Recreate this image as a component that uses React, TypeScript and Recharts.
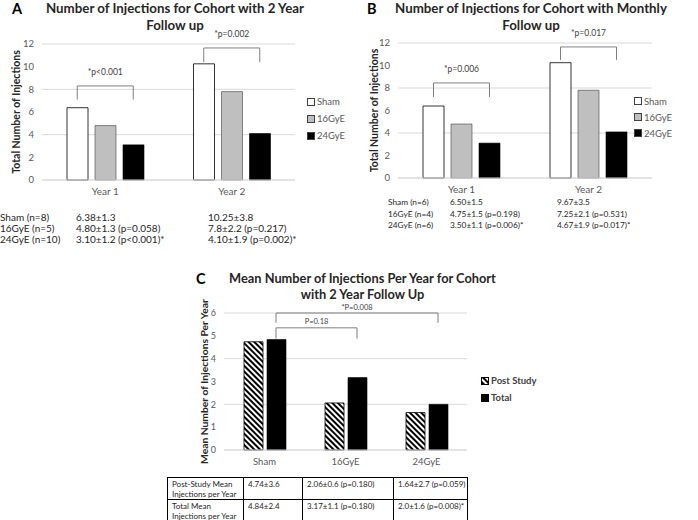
import React from "react"
import {
  BarChart,
  Bar,
  XAxis,
  YAxis,
  CartesianGrid,
  ReferenceLine,
} from "recharts"

// ---- data ----
const years = ["Year 1", "Year 2"]
const groups = ["Sham", "16GyE", "24GyE"]
const groupFill = ["#ffffff", "#bfbfbf", "#000000"]

// cohort with 2 year follow up
const aSham = [6.38, 10.25]
const a16 = [4.8, 7.8]
const a24 = [3.1, 4.1]

// cohort with monthly follow up
const bSham = [6.4, 10.25]
const b16 = [4.8, 7.8]
const b24 = [3.1, 4.1]

const countTicks = [0, 2, 4, 6, 8, 10, 12]

// brackets: [category, bottom, top, label]
const aBrackets: [string, number, number, string][] = [
  ["Year 1", 7.1, 8.3, "*p<0.001"],
  ["Year 2", 10.4, 11.65, "*p=0.002"],
]
const bBrackets: [string, number, number, string][] = [
  ["Year 1", 7.2, 8.45, "*p=0.006"],
  ["Year 2", 10.5, 11.65, "*p=0.017"],
]

const aStatRows = ["Sham (n=8)", "16GyE (n=5)", "24GyE (n=10)"]
const aStatY1 = ["6.38±1.3", "4.80±1.3 (p=0.058)", "3.10±1.2 (p<0.001)*"]
const aStatY2 = ["10.25±3.8", "7.8±2.2 (p=0.217)", "4.10±1.9 (p=0.002)*"]

const bStatRows = ["Sham (n=6)", "16GyE (n=4)", "24GyE (n=6)"]
const bStatY1 = ["6.50±1.5", "4.75±1.5 (p=0.198)", "3.50±1.1 (p=0.006)*"]
const bStatY2 = ["9.67±3.5", "7.25±2.1 (p=0.531)", "4.67±1.9 (p=0.017)*"]

// mean per year
const dose = ["Sham", "16GyE", "24GyE"]
const postStudy = [4.74, 2.06, 1.64]
const totalMean = [4.84, 3.17, 2.0]
const meanTicks = [0, 1, 2, 3, 4, 5, 6]
// [from, to, bottom, top, label]
const cBrackets: [string, string, number, number, string][] = [
  ["Sham", "24GyE", 5.57, 6.0, "*P=0.008"],
  ["Sham", "16GyE", 4.88, 5.35, "P=0.18"],
]
const cRowLabels = [
  ["Post-Study Mean", "Injections per Year"],
  ["Total Mean", "Injections per Year"],
]
const cRowVals = [
  ["4.74±3.6", "2.06±0.6 (p=0.180)", "1.64±2.7 (p=0.059)"],
  ["4.84±2.4", "3.17±1.1 (p=0.180)", "2.0±1.6 (p=0.008)*"],
]

const FONT = "Lato, 'Open Sans', sans-serif"
const GRID = "#d9d9d9"
const TICK = "#595959"

const yearData = (s: number[], m: number[], h: number[]) =>
  years.map((y, i) => ({ year: y, sham: s[i], gy16: m[i], gy24: h[i] }))

const aData = yearData(aSham, a16, a24)
const bData = yearData(bSham, b16, b24)
const cData = dose.map((d, i) => ({ dose: d, post: postStudy[i], total: totalMean[i] }))

// bracket drawn between two bar centres, x offsets are bar positions in the band
function bracketShape(o1: number, o2: number, text: string, gap: number, fs: number) {
  return (p: any) => {
    const xa = p.x1 + o1
    const xb = p.x2 + o2
    const yb = p.y1
    const yt = p.y2
    return (
      <g>
        <path
          d={`M${xa},${yb}L${xa},${yt}L${xb},${yt}L${xb},${yb}`}
          fill="none"
          stroke="#7f7f7f"
          strokeWidth={1}
        />
        <text
          x={(xa + xb) / 2}
          y={yt - gap}
          textAnchor="middle"
          fontSize={fs}
          fill="#404040"
          fontFamily={FONT}
        >
          {text}
        </text>
      </g>
    )
  }
}

const yLabel = (text: string, dx: number, fs: number) => (p: any) => {
  const vb = p.viewBox
  const cx = vb.x + dx
  const cy = vb.y + vb.height / 2
  return (
    <text
      x={cx}
      y={cy}
      transform={`rotate(-90 ${cx} ${cy})`}
      textAnchor="middle"
      dominantBaseline="central"
      fontSize={fs}
      fontWeight={700}
      fill="#262626"
      fontFamily={FONT}
    >
      {text}
    </text>
  )
}

function YearChart({
  data,
  brackets,
  width,
  height,
  margin,
  yWidth,
  labelDx,
  barSize,
  barGap,
}: any) {
  const step = barSize + barGap
  return (
    <BarChart
      width={width}
      height={height}
      data={data}
      margin={margin}
      barSize={barSize}
      barGap={barGap}
      style={{ fontFamily: FONT }}
    >
      <CartesianGrid vertical={false} stroke={GRID} />
      <XAxis
        dataKey="year"
        height={20}
        tickLine={false}
        axisLine={{ stroke: GRID }}
        tick={{ fontSize: 10, fill: TICK }}
      />
      <YAxis
        width={yWidth}
        domain={[0, 12]}
        ticks={countTicks}
        tickLine={false}
        axisLine={false}
        tick={{ fontSize: 9.5, fill: TICK }}
        label={yLabel("Total Number of Injections", labelDx, 10.5)}
      />
      <Bar dataKey="sham" fill={groupFill[0]} stroke="#000" strokeWidth={0.8} isAnimationActive={false} />
      <Bar dataKey="gy16" fill={groupFill[1]} stroke="#404040" strokeWidth={0.6} isAnimationActive={false} />
      <Bar dataKey="gy24" fill={groupFill[2]} stroke="#000" strokeWidth={0.6} isAnimationActive={false} />
      {brackets.map((b: any, i: number) => (
        <ReferenceLine
          key={i}
          segment={[
            { x: b[0], y: b[1] },
            { x: b[0], y: b[2] },
          ]}
          ifOverflow="visible"
          shape={bracketShape(-step, step, b[3], 11, 8.5)}
        />
      ))}
    </BarChart>
  )
}

function Legend3({ left, top, gap }: { left: number; top: number; gap: number }) {
  return (
    <div style={{ position: "absolute", left, top, fontFamily: FONT, fontSize: 9.5, color: TICK }}>
      {groups.map((g, i) => (
        <div key={g} style={{ display: "flex", alignItems: "center", height: gap }}>
          <span
            style={{
              display: "inline-block",
              width: 6,
              height: 6,
              background: groupFill[i],
              border: "1px solid #404040",
              marginRight: 2,
            }}
          />
          {g}
        </div>
      ))}
    </div>
  )
}

function StatText({ rows, c1, c2, left, x1, x2, top, lh, fs }: any) {
  return (
    <div style={{ position: "absolute", left: 0, top, fontFamily: FONT, fontSize: fs, color: "#262626" }}>
      {rows.map((r: string, i: number) => (
        <div key={r} style={{ position: "relative", height: lh, whiteSpace: "nowrap" }}>
          <span style={{ position: "absolute", left }}>{r}</span>
          <span style={{ position: "absolute", left: x1 }}>{c1[i]}</span>
          <span style={{ position: "absolute", left: x2 }}>{c2[i]}</span>
        </div>
      ))}
    </div>
  )
}

const titleStyle: React.CSSProperties = {
  position: "absolute",
  fontFamily: FONT,
  fontWeight: 700,
  fontSize: 13.3,
  color: "#262626",
  textAlign: "center",
  lineHeight: "17px",
  whiteSpace: "nowrap",
}
const letterStyle: React.CSSProperties = {
  position: "absolute",
  fontFamily: FONT,
  fontWeight: 700,
  fontSize: 14.5,
  lineHeight: "15px",
  color: "#000",
}

export default function App() {
  const cStep = 19 + 4
  const cell: React.CSSProperties = {
    border: "1px solid #000",
    padding: "1px 4px 0 4px",
    verticalAlign: "top",
    lineHeight: "10px",
  }
  return (
    <div
      style={{
        position: "absolute",
        left: 0,
        top: 0,
        width: 698,
        height: 520,
        background: "#fff",
        overflow: "hidden",
      }}
    >
      {/* Panel A */}
      <div style={{ ...letterStyle, left: 12, top: 1 }}>A</div>
      <div style={{ ...titleStyle, left: 20, width: 310, top: 0 }}>
        Number of Injections for Cohort with 2 Year
        <br />
        Follow up
      </div>
      <div style={{ position: "absolute", left: 0, top: 0 }}>
        <YearChart
          data={aData}
          brackets={aBrackets}
          width={350}
          height={200}
          margin={{ top: 44, right: 55, bottom: 0, left: 0 }}
          yWidth={42}
          labelDx={16}
          barSize={21}
          barGap={7}
        />
      </div>
      <Legend3 left={307} top={93} gap={17} />
      <StatText
        rows={aStatRows}
        c1={aStatY1}
        c2={aStatY2}
        left={0}
        x1={76}
        x2={208}
        top={211}
        lh={11}
        fs={10}
      />

      {/* Panel B */}
      <div style={{ ...letterStyle, left: 367, top: 1 }}>B</div>
      <div style={{ ...titleStyle, left: 376, width: 310, top: 0 }}>
        Number of Injections for Cohort with Monthly
        <br />
        Follow up
      </div>
      <div style={{ position: "absolute", left: 350, top: 0 }}>
        <YearChart
          data={bData}
          brackets={bBrackets}
          width={348}
          height={198}
          margin={{ top: 43, right: 46, bottom: 0, left: 0 }}
          yWidth={48}
          labelDx={24}
          barSize={21}
          barGap={7}
        />
      </div>
      <Legend3 left={634} top={93} gap={16} />
      <StatText
        rows={bStatRows}
        c1={bStatY1}
        c2={bStatY2}
        left={388}
        x1={450}
        x2={557}
        top={197}
        lh={11.5}
        fs={8.3}
      />

      {/* Panel C */}
      <div style={{ ...letterStyle, left: 196, top: 271 }}>C</div>
      <div style={{ ...titleStyle, fontSize: 12.8, lineHeight: "16px", left: 210, width: 305, top: 270 }}>
        Mean Number of Injections Per Year for Cohort
        <br />
        with 2 Year Follow Up
      </div>
      <div style={{ position: "absolute", left: 150, top: 290 }}>
        <svg width={0} height={0} style={{ position: "absolute" }}>
          <defs>
            <pattern
              id="hatch"
              width={4}
              height={4}
              patternUnits="userSpaceOnUse"
              patternTransform="rotate(-45)"
            >
              <rect width={4} height={4} fill="#fff" />
              <rect width={2} height={4} fill="#000" />
            </pattern>
          </defs>
        </svg>
        <BarChart
          width={340}
          height={180}
          data={cData}
          margin={{ top: 23, right: 23, bottom: 0, left: 0 }}
          barSize={19}
          barGap={4}
          style={{ fontFamily: FONT }}
        >
          <CartesianGrid vertical={false} stroke={GRID} />
          <XAxis
            dataKey="dose"
            height={20}
            tickLine={false}
            axisLine={{ stroke: GRID }}
            tick={{ fontSize: 9.5, fill: TICK }}
          />
          <YAxis
            width={74}
            domain={[0, 6]}
            ticks={meanTicks}
            tickLine={false}
            axisLine={false}
            tick={{ fontSize: 9, fill: TICK }}
            label={yLabel("Mean Number of Injections Per Year", 54, 10.3)}
          />
          <Bar dataKey="post" fill="url(#hatch)" stroke="#000" strokeWidth={0.8} isAnimationActive={false} />
          <Bar dataKey="total" fill="#000" stroke="#000" strokeWidth={0.6} isAnimationActive={false} />
          {cBrackets.map((b, i) => (
            <ReferenceLine
              key={i}
              segment={[
                { x: b[0], y: b[2] },
                { x: b[1], y: b[3] },
              ]}
              ifOverflow="visible"
              shape={bracketShape(cStep / 2, cStep / 2, b[4], 3.5, 7.5)}
            />
          ))}
        </BarChart>
      </div>
      {/* legend C */}
      <div
        style={{
          position: "absolute",
          left: 481,
          top: 372,
          fontFamily: FONT,
          fontSize: 9.5,
          fontWeight: 700,
          color: "#404040",
        }}
      >
        {[
          ["Post Study", "url(#hatch)"],
          ["Total", "#000"],
        ].map(([name, f]) => (
          <div key={name} style={{ display: "flex", alignItems: "center", height: 17 }}>
            <svg width={8} height={8} style={{ marginRight: 2 }}>
              <rect x={0.5} y={0.5} width={7} height={7} fill={f} stroke="#000" />
            </svg>
            {name}
          </div>
        ))}
      </div>
      {/* table C */}
      <table
        style={{
          position: "absolute",
          left: 167,
          top: 477,
          width: 300,
          borderCollapse: "collapse",
          border: "1.5px solid #000",
          fontFamily: FONT,
          fontSize: 8,
          color: "#262626",
          tableLayout: "fixed",
        }}
      >
        <colgroup>
          <col style={{ width: 76 }} />
          <col style={{ width: 59 }} />
          <col style={{ width: 91 }} />
          <col style={{ width: 74 }} />
        </colgroup>
        <tbody>
          {cRowLabels.map((lbl, r) => (
            <tr key={r} style={{ height: 20 }}>
              <td style={cell}>
                {lbl[0]}
                <br />
                {lbl[1]}
              </td>
              {cRowVals[r].map((v, j) => (
                <td key={j} style={{ ...cell, whiteSpace: "nowrap" }}>
                  {v}
                </td>
              ))}
            </tr>
          ))}
        </tbody>
      </table>
    </div>
  )
}
